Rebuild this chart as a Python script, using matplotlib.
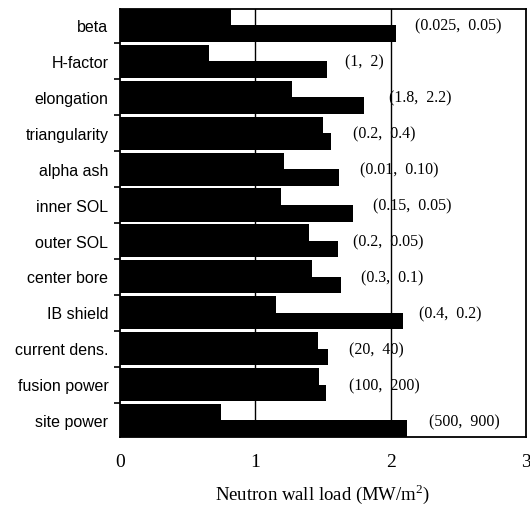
import numpy as np
import matplotlib.pyplot as plt

plt.rcParams['mathtext.fontset'] = 'custom'
plt.rcParams['mathtext.rm'] = 'Liberation Serif'

categories = ['beta', 'H-factor', 'elongation', 'triangularity', 'alpha ash',
              'inner SOL', 'outer SOL', 'center bore', 'IB shield',
              'current dens.', 'fusion power', 'site power']
low_values = [0.82, 0.66, 1.27, 1.50, 1.21, 1.19, 1.40, 1.42, 1.15, 1.46, 1.47, 0.75]
high_values = [2.04, 1.53, 1.80, 1.56, 1.62, 1.72, 1.61, 1.63, 2.09, 1.54, 1.52, 2.12]
ranges = ['(0.025,  0.05)', '(1,  2)', '(1.8,  2.2)', '(0.2,  0.4)', '(0.01,  0.10)',
          '(0.15,  0.05)', '(0.2,  0.05)', '(0.3,  0.1)', '(0.4,  0.2)',
          '(20,  40)', '(100,  200)', '(500,  900)']
label_x = [2.18, 1.66, 1.99, 1.72, 1.77, 1.87, 1.72, 1.78, 2.21, 1.69, 1.69, 2.28]

h = 0.46
y = np.arange(len(categories))

fig = plt.figure(figsize=(5.3, 5.09), dpi=100)
ax = fig.add_axes([0.2264, 0.1415, 0.766, 0.841])

ax.barh(y, low_values, height=h, align='edge', color='black', zorder=2)
ax.barh(y + h, high_values, height=h, align='edge', color='black', zorder=2)

for xv in [1, 2]:
    ax.axvline(xv, color='black', lw=1.0, zorder=1)

for i, (txt, lx) in enumerate(zip(ranges, label_x)):
    ax.text(lx, i + 0.5, txt, family='Liberation Serif', fontsize=11.5,
            va='center', ha='left', zorder=0.5)

ax.set_xlim(0, 3)
ax.set_ylim(2 * h * len(categories) + 0.08 * (len(categories) - 1), 0)
ax.set_xticks([0, 1, 2, 3])
ax.set_xticklabels(['0', '1', '2', '3'], family='Liberation Serif', fontsize=14)
ax.tick_params(axis='x', length=0, pad=12)

ax.set_yticks(y[:-1] + 2 * h + 0.04)
ax.set_yticklabels([])
ax.tick_params(axis='y', length=4, width=1.2, direction='out')
for i, c in enumerate(categories):
    ax.text(-0.085, i + 0.52, c, family='Liberation Sans', fontsize=11.5,
            ha='right', va='center')

for s in ax.spines.values():
    s.set_linewidth(1.3)

ax.set_xlabel('Neutron wall load (MW/m$^2$)', family='Liberation Serif',
              fontsize=13.5, labelpad=8)

fig.savefig('out.png', dpi=100)
